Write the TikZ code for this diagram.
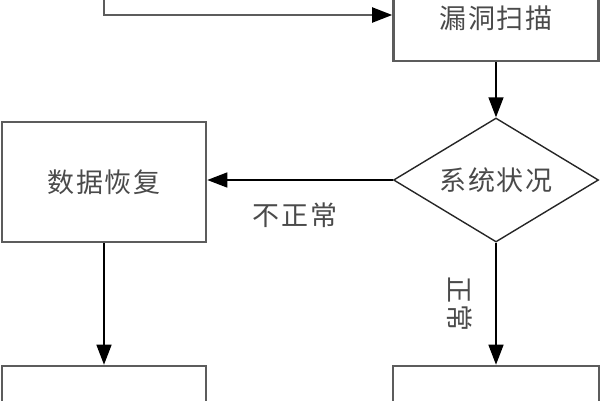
\documentclass[tikz,border=0pt]{standalone}
\usepackage{fontspec}
\newfontfamily\cjk[LetterSpace=6]{Noto Sans CJK SC}
\usetikzlibrary{arrows.meta,shapes.geometric}
\definecolor{boxline}{HTML}{5C5C5C}
\definecolor{txt}{HTML}{4A4A4A}
\begin{document}
\begin{tikzpicture}[x=1pt,y=-1pt,
  box/.style={draw=boxline, line width=2.6pt, rectangle, inner sep=0pt,
    minimum width=204pt, minimum height=120pt, font=\cjk\fontsize{27}{30}\selectfont, text=txt},
  decision/.style={draw=black!85, line width=1.4pt, diamond, aspect=1.65, inner sep=0pt,
    minimum width=205pt, minimum height=124pt, font=\cjk\fontsize{27}{30}\selectfont, text=txt},
  arr/.style={draw=black, line width=1.5pt, -{Triangle[length=20pt,width=15pt,color=black]}},
  lbl/.style={font=\cjk\fontsize{27}{30}\selectfont, text=txt, inner sep=0pt}]
\useasboundingbox (0,0) rectangle (600,400);
\node[box, minimum width=205pt, minimum height=86pt] (scan) at (496,18) {漏洞扫描};
\node[decision] (state) at (496,180) {系统状况};
\node[box] (recover) at (104,182) {数据恢复};
\node[box] (bl) at (104,426) {};
\node[box, minimum width=206pt] (br) at (496,426) {};
\coordinate (start) at (104,-4);
\draw[arr, draw=boxline, line width=2pt] (start) |- ([yshift=3pt]scan.west);
\draw[arr] (scan.south) -- (state.north);
\draw[arr] (state.west) -- (state.west -| recover.east);
\draw[arr] (recover.south) -- (bl.north);
\draw[arr] (state.south) -- (br.north);
\node[lbl] (abn) at (295,215) {不正常};
\node[lbl, rotate=-90] (norm) at (460,304) {正常};
\end{tikzpicture}
\end{document}
